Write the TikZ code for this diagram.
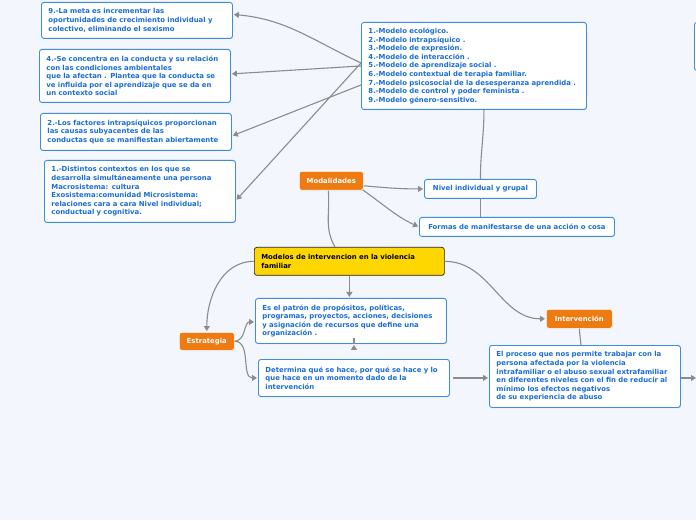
\documentclass[tikz,border=0pt]{standalone}
\usepackage{fontspec}
\setmainfont{DejaVu Sans}
\usetikzlibrary{positioning,arrows.meta,calc,shadows}
\definecolor{bgpage}{HTML}{F3F6FD}
\definecolor{boxblue}{HTML}{3F8DDB}
\definecolor{txtblue}{HTML}{1A6DD6}
\definecolor{orng}{HTML}{EE7A12}
\definecolor{yell}{HTML}{FFD700}
\definecolor{lgray}{HTML}{8C8C8C}

\begin{document}
\begin{tikzpicture}[x=1pt, y=1pt,
  box/.style={draw=boxblue, fill=white, rounded corners=2.5pt, line width=0.9pt,
              anchor=north west, align=left, text=txtblue, inner xsep=7pt, inner ysep=2pt,
              font=\fontsize{6.9}{8.6}\selectfont\bfseries,
              drop shadow={shadow xshift=0.6pt, shadow yshift=-0.8pt, opacity=0.15}},
  tag/.style={box, draw=white, fill=orng, text=white, align=center, inner xsep=2pt,
              line width=0.6pt},
  topic/.style={box, draw=black!85, fill=yell, text=black, line width=0.7pt},
  ar/.style={-{Triangle[length=5pt, width=6pt]}, draw=lgray, line width=1.1pt, shorten >=1pt},
  ln/.style={draw=lgray, line width=1.1pt},
]
\fill[bgpage] (0,0) rectangle (696,520);
\useasboundingbox (0,0) rectangle (696,520);

% left column: model descriptions
\node[box, text width=177pt, minimum height=36pt] (m9) at (41,518)
  {9.-La meta es incrementar las\\oportunidades de crecimiento individual y\\colectivo, eliminando el sexismo};
\node[box, text width=177pt, minimum height=53pt] (m4) at (39,471)
  {4.-Se concentra en la conducta y su relación\\con las condiciones ambientales\\que la afectan . Plantea que la conducta se\\ve influida por el aprendizaje que se da en\\un contexto social};
\node[box, text width=177pt, minimum height=37pt] (m2) at (40,407)
  {2.-Los factores intrapsíquicos proporcionan\\las causas subyacentes de las\\conductas que se manifiestan abiertamente};
\node[box, text width=177pt, minimum height=62pt] (m1) at (44,360)
  {1.-Distintos contextos en los que se\\desarrolla simultáneamente una persona\\Macrosistema: cultura\\Exosistema:comunidad Microsistema:\\relaciones cara a cara Nivel individual;\\conductual y cognitiva.};

% list of models
\node[box, text width=211pt, minimum height=87pt] (lista) at (361,498)
  {1.-Modelo ecológico.\\2.-Modelo intrapsíquico .\\3.-Modelo de expresión.\\4.-Modelo de interacción .\\5.-Modelo de aprendizaje social .\\6.-Modelo contextual de terapia familiar.\\7.-Modelo psicosocial de la desesperanza aprendida .\\8.-Modelo de control y poder feminista .\\9.-Modelo género-sensitivo.};

% modalidades
\node[tag, minimum width=64pt, minimum height=19pt] (modal) at (299,349) {Modalidades};
\node[box, align=center, minimum width=112pt, minimum height=19pt] (nivel) at (424,341) {Nivel individual y grupal};
\node[box, align=center, minimum width=195pt, minimum height=19pt] (formas) at (419,303) {Formas de manifestarse de una acción o cosa};

% central topic
\node[topic, text width=176pt, minimum height=28pt] (main) at (254,273)
  {Modelos de intervencion en la violencia\\familiar};

% estrategia
\node[tag, minimum width=55pt, minimum height=18pt] (estr) at (179,188) {Estrategia};
\node[box, text width=177pt, minimum height=45pt] (patron) at (255,222)
  {Es el patrón de propósitos, políticas,\\programas, proyectos, acciones, decisiones\\y asignación de recursos que define una\\organización .};
\node[box, text width=177pt, minimum height=37pt] (determ) at (258,161)
  {Determina qué se hace, por qué se hace y lo\\que hace en un momento dado de la\\intervención};

% intervencion
\node[tag, minimum width=66pt, minimum height=19pt] (interv) at (546,211) {Intervención};
\node[box, text width=177pt, minimum height=62pt] (proceso) at (489,175)
  {El proceso que nos permite trabajar con la\\persona afectada por la violencia\\intrafamiliar o el abuso sexual extrafamiliar\\en diferentes niveles con el fin de reducir al\\mínimo los efectos negativos\\de su experiencia de abuso};

% node cut by the right edge
\begin{scope}
  \clip (0,0) rectangle (696,520);
  \node[box, minimum width=20pt, minimum height=48pt] (borde) at (694,498) {};
\end{scope}
\coordinate (fuera) at (697,142);

% connectors
\draw[ar] ($(lista.west)+(0,3)$) to[out=155, in=-5] ($(m9.east)+(0,6)$);
\draw[ar] (lista.west) -- ($(m4.east)+(0,2)$);
\draw[ar] ($(lista.west)+(0,-19)$) -- ($(m2.east)+(0,-4)$);
\draw[ar] ($(lista.west)+(0,3)$) -- ($(m1.east)+(0,-9)$);
\draw[ln] (nivel.north) to[out=90, in=-90] ($(lista.south)+(10,0)$);
\draw[ln] (nivel.south) -- (nivel.south |- formas.north);
\draw[ar] ($(modal.east)+(0,-5)$) to[out=-5, in=180] (nivel.west);
\draw[ar] ($(modal.east)+(-1,-9)$) to[out=-35, in=155] (formas.west);
\draw[ln] ($(modal.south)+(-3,0)$) to[out=-85, in=120] ($(main.north west)+(81,0)$);
\draw[ar] (main.west) to[out=180, in=90] (estr.north);
\draw[ar] (main.south) -- (main.south |- patron.north);
\draw[ar] (main.east) to[out=0, in=180] (interv.west);
\draw[ar] (estr.east) to[out=0, in=180] ($(patron.west)+(0,-1)$);
\draw[ar] (estr.east) to[out=0, in=180] (determ.west);
\draw[ar] ($(patron.south)+(3,0)$) -- ($(patron.south)+(3,0)$ |- determ.north);
\draw[ar] ($(determ.east)+(3,0)$) -- (proceso.west |- determ.east);
\draw[ln] (interv.south) to[out=-85, in=95] ($(proceso.north)+(-4,0)$);
\draw[ar] (proceso.east |- fuera) -- (fuera);
\end{tikzpicture}
\end{document}
